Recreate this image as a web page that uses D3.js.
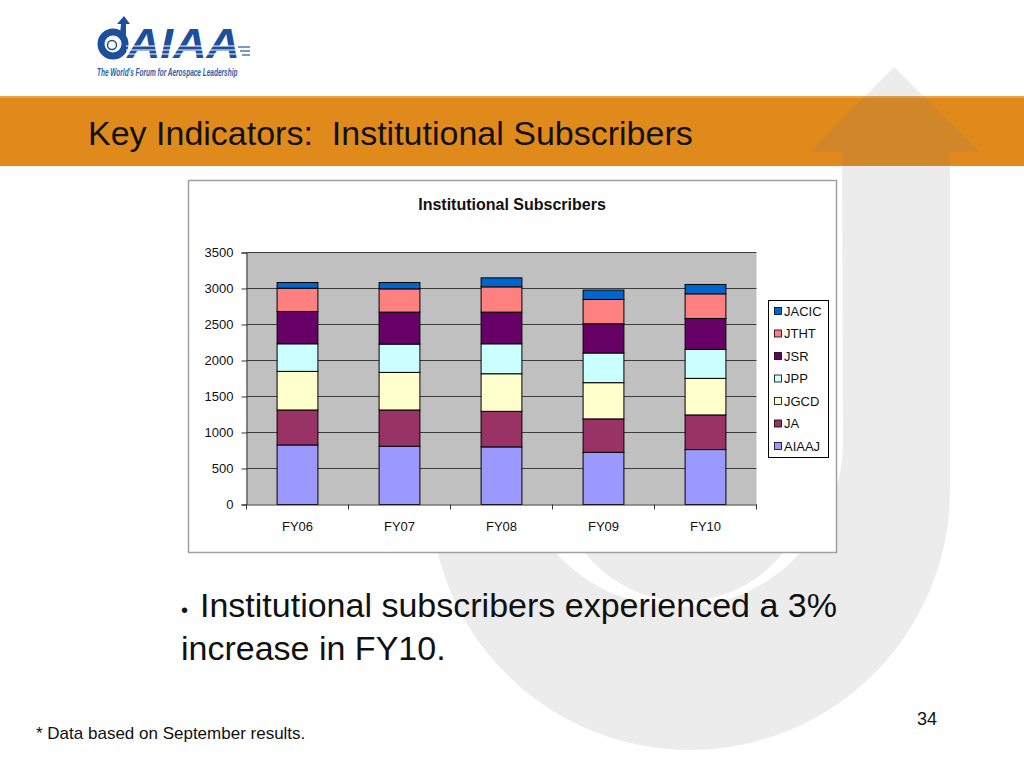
<!DOCTYPE html>
<html>
<head>
<meta charset="utf-8">
<script src="https://cdn.jsdelivr.net/npm/d3@7"></script>
<style>
  body { margin: 0; background: #fff; }
  svg { display: block; font-family: "Liberation Sans", Arial, sans-serif; }
</style>
</head>
<body>
<div id="target"></div>
<script>
const years = ["FY06", "FY07", "FY08", "FY09", "FY10"];
const journals = ["AIAAJ", "JA", "JGCD", "JPP", "JSR", "JTHT", "JACIC"];
const aiaaj = [827, 809, 800, 725, 763];
const ja = [486, 504, 494, 464, 481];
const jgcd = [536, 522, 522, 503, 508];
const jpp = [383, 393, 416, 412, 402];
const jsr = [449, 444, 440, 406, 430];
const jtht = [323, 323, 351, 338, 342];
const jacic = [79, 88, 125, 130, 130];
const yTicks = [0, 500, 1000, 1500, 2000, 2500, 3000, 3500];
const colors = ["#9999ff", "#993366", "#ffffcc", "#ccffff", "#660066", "#ff8080", "#0066cc"];

function drawSlide() {
  const width = 1024,
    height = 768;

  const series = [aiaaj, ja, jgcd, jpp, jsr, jtht, jacic];
  const rows = years.map((yr, i) => {
    const row = { year: yr };
    journals.forEach((j, k) => row[j] = series[k][i]);
    return row;
  });

  const svg = d3.select("#target")
    .append("svg")
    .attr("width", width)
    .attr("height", height);

  // orange title band
  svg.append("rect")
    .attr("x", 0).attr("y", 96)
    .attr("width", width).attr("height", 70)
    .attr("fill", "#e08a1c");
  svg.append("rect")
    .attr("x", 0).attr("y", 96)
    .attr("width", width).attr("height", 2)
    .attr("fill", "#eba24a");

  // faded logo swirl in the background (U shape with arrow + inner disk)
  const swirl = "M842,152 L950,152 L950,490 A260,260 0 0 1 430,490 L430,250 L513,250 " +
    "L513,442 A165,165 0 0 0 843,442 Z M810,152 L894,67 L980,152 Z";
  svg.append("path")
    .attr("d", swirl)
    .attr("fill", "#7a7a7a")
    .attr("fill-opacity", 0.14);
  svg.append("circle")
    .attr("cx", 684).attr("cy", 475).attr("r", 126)
    .attr("fill", "#7a7a7a")
    .attr("fill-opacity", 0.14);

  svg.append("text")
    .attr("x", 88).attr("y", 145)
    .style("font-size", "34px")
    .style("white-space", "pre")
    .attr("fill", "#111")
    .text("Key Indicators:  Institutional Subscribers");

  // logo
  const logo = svg.append("g").attr("class", "logo");
  logo.append("circle")
    .attr("cx", 113).attr("cy", 44).attr("r", 12)
    .attr("fill", "none")
    .attr("stroke", "#1d4f9c")
    .attr("stroke-width", 7);
  logo.append("circle")
    .attr("cx", 112).attr("cy", 45).attr("r", 4.5)
    .attr("fill", "#fff")
    .attr("stroke", "#1d4f9c")
    .attr("stroke-width", 1.5);
  logo.append("path")
    .attr("d", "M120,34 L121,24 L117,24 L124,16 L130,24 L126,24 L126,36 Z")
    .attr("fill", "#1d4f9c");
  logo.append("text")
    .attr("transform", "translate(127,58) scale(1.1,1)")
    .style("font-size", "42px")
    .style("font-weight", "bold")
    .style("font-style", "italic")
    .attr("fill", "#1d4f9c")
    .text("AIAA");
  [46, 50, 54].forEach((ly, i) => {
    logo.append("line")
      .attr("x1", 126).attr("x2", 240)
      .attr("y1", ly).attr("y2", ly)
      .attr("stroke", "#fff")
      .attr("stroke-width", 1);
    logo.append("line")
      .attr("x1", 238 + i * 2).attr("x2", 250)
      .attr("y1", ly + 1).attr("y2", ly + 1)
      .attr("stroke", "#4a78b8")
      .attr("stroke-width", 1.5);
  });
  logo.append("text")
    .attr("transform", "translate(97,76) scale(0.65,1)")
    .style("font-size", "10px")
    .style("font-style", "italic")
    .style("font-weight", "bold")
    .attr("fill", "#2a5ea8")
    .text("The World's Forum for Aerospace Leadership");

  // chart box
  svg.append("rect")
    .attr("x", 188.5).attr("y", 180.5)
    .attr("width", 648).attr("height", 372)
    .attr("fill", "#fff")
    .attr("stroke", "#a0a0a0")
    .attr("stroke-width", 1.5);

  svg.append("text")
    .attr("x", 512).attr("y", 210)
    .attr("text-anchor", "middle")
    .style("font-size", "16px")
    .style("font-weight", "bold")
    .attr("fill", "#111")
    .text("Institutional Subscribers");

  const x = d3.scaleBand()
    .domain(years)
    .range([246.5, 756.5])
    .paddingInner(0.6)
    .paddingOuter(0.3);

  const y = d3.scaleLinear()
    .domain([0, 3500])
    .range([504.5, 252.5]);

  const color = d3.scaleOrdinal()
    .domain(journals)
    .range(colors);

  const stack = d3.stack().keys(journals);
  const layers = stack(rows);

  svg.append("rect")
    .attr("x", x.range()[0]).attr("y", y(3500))
    .attr("width", x.range()[1] - x.range()[0])
    .attr("height", y(0) - y(3500))
    .attr("fill", "#c0c0c0");

  svg.append("g")
    .attr("class", "grid")
    .selectAll("line")
    .data(yTicks.filter((d) => d > 0))
    .enter()
    .append("line")
    .attr("x1", x.range()[0]).attr("x2", x.range()[1])
    .attr("y1", (d) => y(d)).attr("y2", (d) => y(d))
    .attr("stroke", "#3c3c3c")
    .attr("stroke-width", 1);

  svg.append("g")
    .attr("class", "layers")
    .selectAll("g")
    .data(layers)
    .enter()
    .append("g")
    .attr("fill", (d) => color(d.key))
    .selectAll("rect")
    .data((d) => d)
    .enter()
    .append("rect")
    .attr("x", (d) => x(d.data.year))
    .attr("y", (d) => y(d[1]))
    .attr("width", x.bandwidth())
    .attr("height", (d) => y(d[0]) - y(d[1]))
    .attr("stroke", "#000")
    .attr("stroke-width", 1);

  const yAxis = svg.append("g")
    .attr("transform", `translate(${x.range()[0]},0)`)
    .call(d3.axisLeft(y).tickValues(yTicks).tickFormat(d3.format("d")).tickSize(5).tickPadding(8));
  yAxis.select(".domain").attr("stroke", "#333");
  yAxis.selectAll(".tick line").attr("stroke", "#333");
  yAxis.selectAll("text")
    .style("font-size", "13px")
    .style("font-family", "'Liberation Sans', Arial, sans-serif")
    .attr("fill", "#111");

  const xAxis = svg.append("g")
    .attr("transform", `translate(0,${y(0)})`)
    .call(d3.axisBottom(x).tickSize(0).tickPadding(17));
  xAxis.select(".domain").attr("stroke", "#333");
  xAxis.selectAll("text")
    .style("font-size", "13px")
    .style("font-family", "'Liberation Sans', Arial, sans-serif")
    .attr("fill", "#111");
  xAxis.selectAll(".sep")
    .data(d3.range(years.length + 1))
    .enter()
    .append("line")
    .attr("class", "sep")
    .attr("x1", (i) => x.range()[0] + i * x.step())
    .attr("x2", (i) => x.range()[0] + i * x.step())
    .attr("y1", 0).attr("y2", 5)
    .attr("stroke", "#333");

  // legend
  const legend = svg.append("g").attr("class", "legend");
  legend.append("rect")
    .attr("x", 768.5).attr("y", 300.5)
    .attr("width", 60).attr("height", 157)
    .attr("fill", "#fff")
    .attr("stroke", "#000")
    .attr("stroke-width", 1);
  const item = legend.selectAll(".item")
    .data(journals.slice().reverse())
    .enter()
    .append("g")
    .attr("class", "item")
    .attr("transform", (d, i) => `translate(774,${311 + i * 22.5})`);
  item.append("rect")
    .attr("x", 0.5).attr("y", -3.5)
    .attr("width", 7).attr("height", 7)
    .attr("fill", (d) => color(d))
    .attr("stroke", "#000")
    .attr("stroke-width", 0.8);
  item.append("text")
    .attr("x", 10).attr("y", 4.5)
    .style("font-size", "13px")
    .attr("fill", "#111")
    .text((d) => d);

  // bullet text and footer
  svg.append("text")
    .attr("x", 181).attr("y", 617)
    .style("font-size", "20px")
    .attr("fill", "#111")
    .text("•");
  svg.append("text")
    .attr("x", 200).attr("y", 617)
    .style("font-size", "34px")
    .attr("fill", "#111")
    .text("Institutional subscribers experienced a 3%");
  svg.append("text")
    .attr("x", 181).attr("y", 660)
    .style("font-size", "34px")
    .attr("fill", "#111")
    .text("increase in FY10.");
  svg.append("text")
    .attr("x", 36).attr("y", 739)
    .style("font-size", "17px")
    .attr("fill", "#111")
    .text("* Data based on September results.");
  svg.append("text")
    .attr("x", 937).attr("y", 725)
    .attr("text-anchor", "end")
    .style("font-size", "18px")
    .attr("fill", "#111")
    .text("34");
}

drawSlide();
</script>
</body>
</html>
